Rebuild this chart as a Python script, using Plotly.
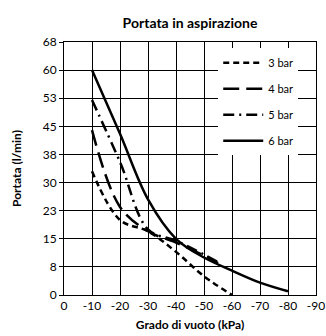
import plotly.graph_objects as go

# Vacuum level (kPa) and flow (l/min) for each supply pressure
x_3bar = [-10, -20, -30, -40, -50, -60]
y_3bar = [33, 20, 17, 11.5, 5, 0]

x_4bar = [-10, -20, -30, -40, -50, -55]
y_4bar = [44, 23.5, 17, 14, 10.5, 8.5]

x_5bar = [-10, -20, -30, -40, -50, -55]
y_5bar = [52, 35.5, 17.5, 14.5, 10.8, 8.8]

x_6bar = [-10, -20, -30, -40, -50, -60, -70, -80]
y_6bar = [60, 43, 25.5, 15, 10, 6.5, 3.3, 1]

series_names = ["3 bar", "4 bar", "5 bar", "6 bar"]
dash_styles = ["6px,4px", "16px,7px", "11px,5px,2px,5px", "solid"]

x_ticks = list(range(0, -100, -10))
y_ticks = [i * 7.5 for i in range(10)]
y_ticktext = [str(int(v + 0.5)) for v in y_ticks]

FONT = "Lato, 'Open Sans', sans-serif"

fig = go.Figure()
for name, xs, ys, dash in zip(series_names,
                              [x_3bar, x_4bar, x_5bar, x_6bar],
                              [y_3bar, y_4bar, y_5bar, y_6bar],
                              dash_styles):
    fig.add_trace(go.Scatter(
        x=xs, y=ys, name=name, mode="lines",
        line=dict(color="black", width=2.5, dash=dash, shape="spline", smoothing=1.0),
        legendgroup=name,
    ))

fig.update_layout(
    width=326, height=336,
    margin=dict(l=64, r=10, t=42, b=41),
    paper_bgcolor="white", plot_bgcolor="white",
    font=dict(family=FONT, size=12, color="black"),
    title=dict(text="<b>Portata in aspirazione</b>", x=0.5, xref="paper",
               y=0.945, yref="container", xanchor="center",
               font=dict(size=14, family=FONT, color="black")),
    legend=dict(x=0.612, y=0.975, xanchor="left", yanchor="top",
                bgcolor="white", font=dict(size=11, family=FONT),
                traceorder="grouped", tracegroupgap=7, itemwidth=40),
    showlegend=True,
)

fig.update_xaxes(
    range=[0, -90], tickvals=x_ticks, ticktext=[str(v) for v in x_ticks],
    showgrid=True, gridcolor="black", gridwidth=1,
    showline=True, linecolor="black", linewidth=1, mirror=True,
    zeroline=False, ticks="", automargin=False,
    title=dict(text="<b>Grado di vuoto (kPa)</b>", font=dict(size=12), standoff=8),
)
fig.update_yaxes(
    range=[0, 67.5], tickvals=y_ticks, ticktext=y_ticktext,
    showgrid=True, gridcolor="black", gridwidth=1,
    showline=True, linecolor="black", linewidth=1, mirror=True,
    zeroline=False, ticks="outside", ticklen=4, tickcolor="black", automargin=False,
    title=dict(text="<b>Portata (l/min)</b>", font=dict(size=12), standoff=18),
)

fig.write_html("out.html")
